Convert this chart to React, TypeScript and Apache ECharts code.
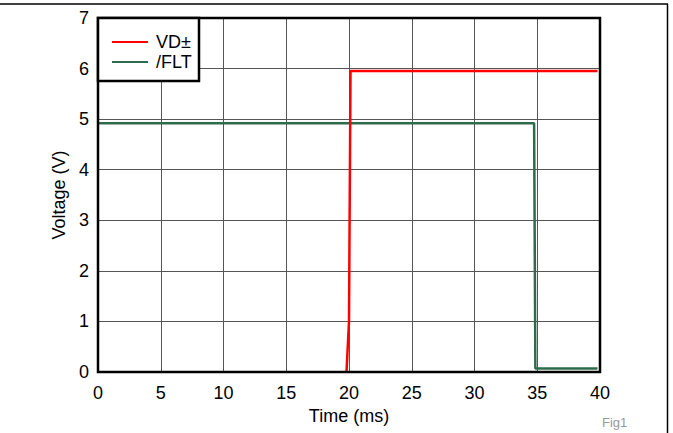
import React, { useEffect, useRef } from "react";
import * as echarts from "echarts";

const xTicks = [0, 5, 10, 15, 20, 25, 30, 35, 40];
const yTicks = [0, 1, 2, 3, 4, 5, 6, 7];
const vdTime = [19.8, 20.0, 20.12, 39.8];
const vdVolt = [0, 1.0, 5.95, 5.95];
const fltTime = [0, 34.75, 34.85, 39.8];
const fltVolt = [4.92, 4.92, 0.07, 0.07];
const seriesNames = ["VD±", "/FLT"];
const seriesColors = ["#ff0000", "#2e6b4b"];

const FONT = "Liberation Sans, Arial, sans-serif";

export default function App() {
  const ref = useRef<HTMLDivElement>(null);
  useEffect(() => {
    const chart = echarts.init(ref.current!, null, { renderer: "svg" });
    const vdData = vdTime.map((t, i) => [t, vdVolt[i]]);
    const fltData = fltTime.map((t, i) => [t, fltVolt[i]]);
    chart.setOption({
      animation: false,
      backgroundColor: "#fff",
      grid: { left: 98, right: 73, top: 18, bottom: 61 },
      xAxis: {
        type: "value",
        min: xTicks[0],
        max: xTicks[xTicks.length - 1],
        interval: 5,
        name: "Time (ms)",
        nameLocation: "middle",
        nameGap: 33,
        nameTextStyle: { fontFamily: FONT, fontSize: 18, color: "#000" },
        axisLine: { show: false },
        axisTick: { show: false },
        axisLabel: { fontFamily: FONT, fontSize: 18, color: "#000", margin: 12 },
        splitLine: { show: true, lineStyle: { color: "#555", width: 1 } },
      },
      yAxis: {
        type: "value",
        min: yTicks[0],
        max: yTicks[yTicks.length - 1],
        interval: 1,
        name: "Voltage (V)",
        nameLocation: "middle",
        nameGap: 27,
        nameTextStyle: { fontFamily: FONT, fontSize: 18, color: "#000" },
        axisLine: { show: false },
        axisTick: { show: false },
        axisLabel: { fontFamily: FONT, fontSize: 18, color: "#000", margin: 9 },
        splitLine: { show: true, lineStyle: { color: "#555", width: 1 } },
      },
      legend: {
        orient: "vertical",
        left: 107,
        top: 28,
        itemWidth: 36,
        itemHeight: 14,
        itemGap: 2,
        icon: "path://M0,6 L36,6 L36,8 L0,8 Z",
        textStyle: { fontFamily: FONT, fontSize: 18, color: "#000", padding: [0, 0, 0, 3] },
        data: seriesNames,
        z: 20,
      },
      graphic: [
        {
          type: "rect",
          shape: { x: 98, y: 18, width: 502, height: 354 },
          style: { fill: "none", stroke: "#000", lineWidth: 2.5 },
          z: 10,
        },
        {
          type: "rect",
          shape: { x: 98, y: 18, width: 101, height: 63 },
          style: { fill: "#fff", stroke: "#000", lineWidth: 2.5 },
          z: 15,
        },
        {
          type: "line",
          shape: { x1: 0, y1: 4, x2: 668, y2: 4 },
          style: { stroke: "#000", lineWidth: 1.5 },
        },
        {
          type: "line",
          shape: { x1: 667.5, y1: 4, x2: 667.5, y2: 433 },
          style: { stroke: "#000", lineWidth: 1.5 },
        },
        {
          type: "text",
          x: 602,
          y: 416,
          style: { text: "Fig1", fontFamily: FONT, fontSize: 13, fill: "#999" },
        },
      ],
      series: [
        {
          name: seriesNames[0],
          type: "line",
          data: vdData,
          symbol: "none",
          lineStyle: { color: seriesColors[0], width: 2.5 },
          itemStyle: { color: seriesColors[0] },
          z: 5,
        },
        {
          name: seriesNames[1],
          type: "line",
          data: fltData,
          symbol: "none",
          lineStyle: { color: seriesColors[1], width: 2.5 },
          itemStyle: { color: seriesColors[1] },
          z: 4,
        },
      ],
    });
    return () => chart.dispose();
  }, []);
  return <div ref={ref} style={{ width: 673, height: 433, position: "absolute", left: 0, top: 0 }} />;
}
